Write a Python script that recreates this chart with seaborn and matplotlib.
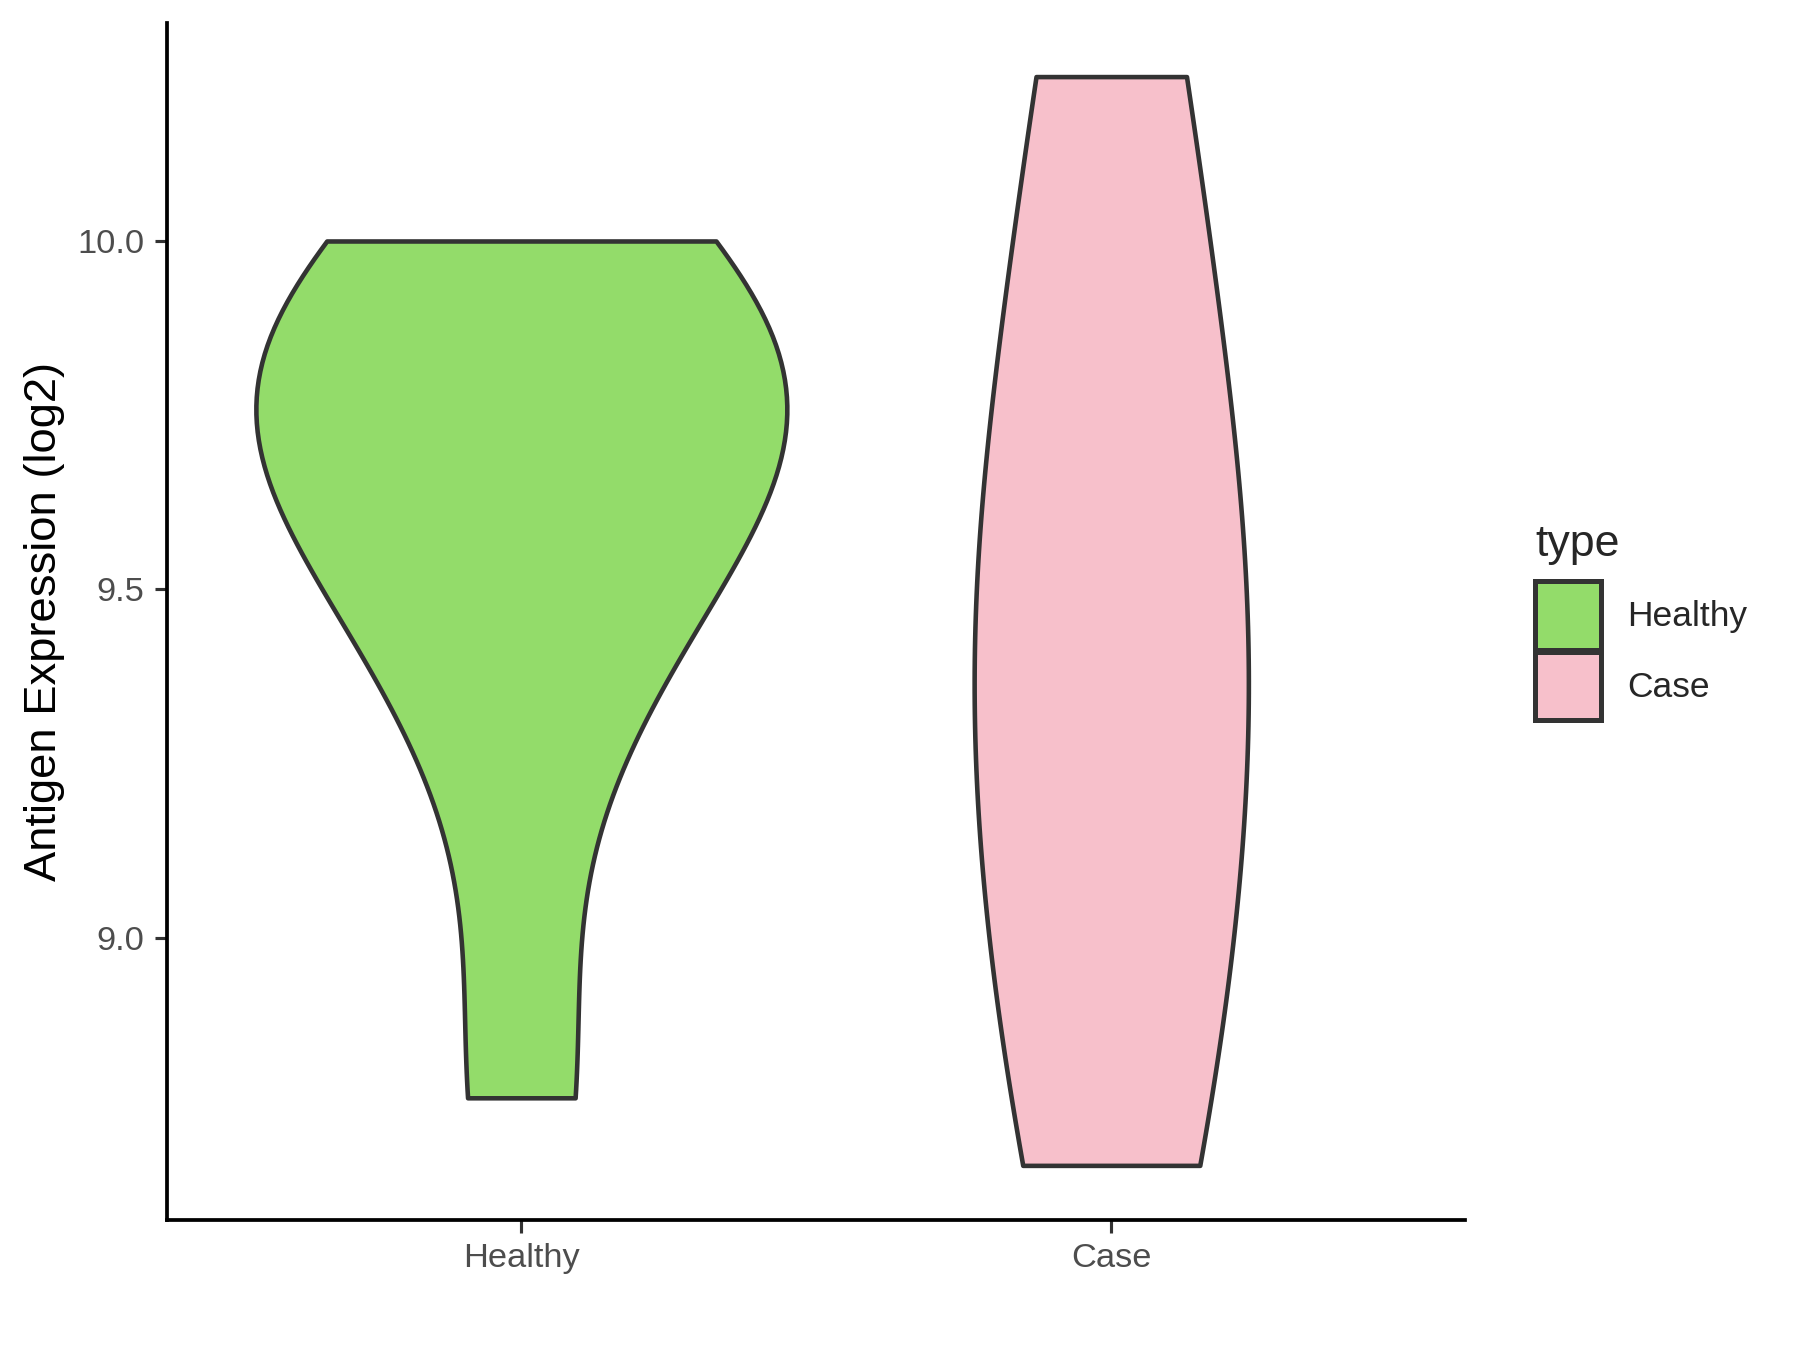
import numpy as np
import pandas as pd
import matplotlib
matplotlib.use("Agg")
import matplotlib.pyplot as plt
import seaborn as sns
from matplotlib.patches import Patch

categories = ["Healthy", "Case"]
healthy_values = [8.77, 9.33, 9.53, 9.70, 9.78, 9.81, 9.85, 10.0]
case_values = [8.673, 9.08, 9.43, 9.68, 10.236]
colors = {"Healthy": "#93DC6A", "Case": "#F7C0CB"}
yticks = [9.0, 9.5, 10.0]
ytick_labels = ["9.0", "9.5", "10.0"]

df = pd.DataFrame({
    "type": ["Healthy"] * len(healthy_values) + ["Case"] * len(case_values),
    "value": healthy_values + case_values,
})

sns.set_style("white")
plt.rcParams["font.family"] = ["Liberation Sans", "DejaVu Sans"]

fig = plt.figure(figsize=(12, 9), dpi=150)
ax = fig.add_axes([0.093, 0.096, 0.721, 0.887])

sns.violinplot(data=df, x="type", y="value", hue="type", order=categories,
               hue_order=categories, palette=colors, saturation=1, cut=0, inner=None,
               density_norm="area", common_norm=True, width=0.9, bw_method="silverman",
               bw_adjust=0.92, linewidth=2.2, linecolor="#333333", legend=False, ax=ax)

ax.set_xlim(-0.6, 1.6)
ax.set_ylim(8.594, 10.313)
ax.set_yticks(yticks)
ax.set_yticklabels(ytick_labels)
ax.set_xlabel("")
ax.set_ylabel("Antigen Expression (log2)", fontsize=21.8, color="black", labelpad=6)
ax.tick_params(axis="both", labelsize=16.5, labelcolor="#4D4D4D", color="#333333",
               length=6, width=1.5, direction="out", left=True, bottom=True, pad=5)
for side in ["top", "right"]:
    ax.spines[side].set_visible(False)
for side in ["left", "bottom"]:
    ax.spines[side].set_color("black")
    ax.spines[side].set_linewidth(1.8)

handles = [Patch(facecolor=colors[c], edgecolor="#333333", linewidth=2.4, label=c) for c in categories]
leg = fig.legend(handles=handles, title="type", loc="upper left",
                 bbox_to_anchor=(0.853, 0.612), frameon=False, fontsize=17,
                 title_fontsize=21.5, handlelength=1.85, handleheight=2.58,
                 handletextpad=0.75, labelspacing=0.08, borderpad=0,
                 borderaxespad=0)
leg._legend_box.align = "left"
leg._legend_box.sep = 8

fig.savefig("out.png", dpi=150)
